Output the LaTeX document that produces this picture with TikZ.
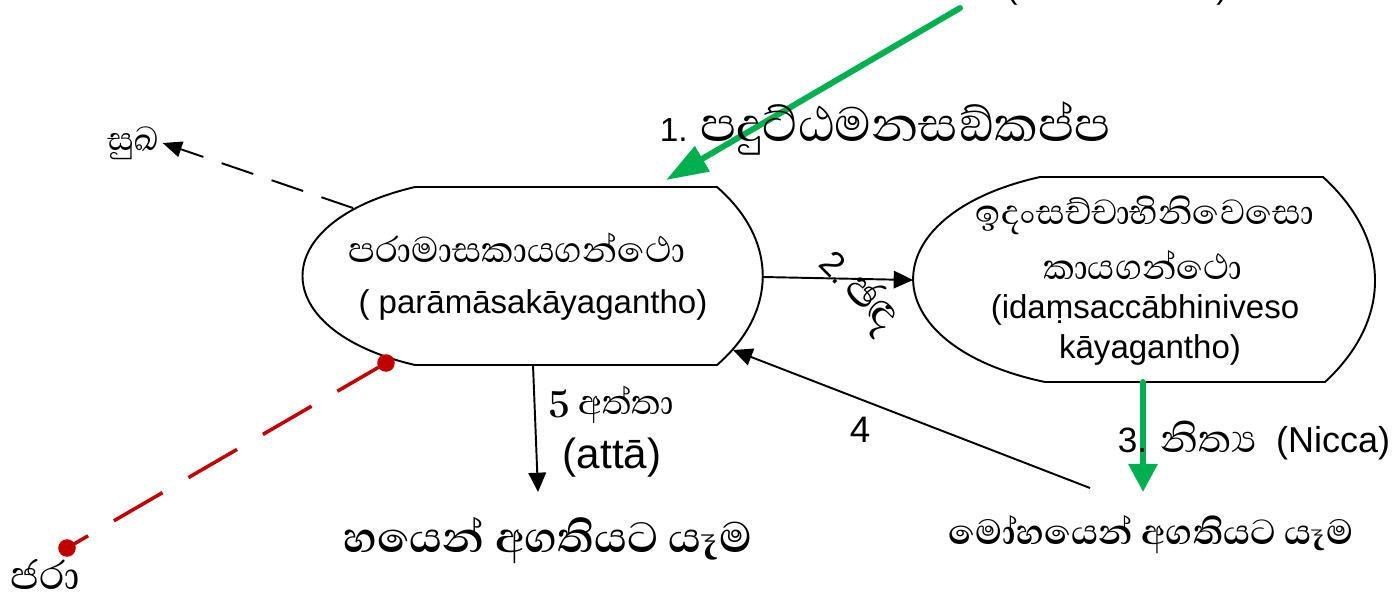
\documentclass[tikz,border=0pt]{standalone}
\usepackage{fontspec}
\setmainfont{Liberation Sans}
\newfontfamily\sifont[Script=Sinhala]{Abhaya Libre}
\usetikzlibrary{arrows.meta}

\definecolor{pathgreen}{RGB}{0,176,80}
\definecolor{jarared}{RGB}{192,0,0}

\tikzset{
  gantho/.style={line width=1.1pt},
  flow/.style={line width=1.1pt, -{Triangle[length=11pt,width=10pt]}},
  greenflow/.style={pathgreen, line width=3.4pt, line cap=round},
  sideflow/.style={line width=1.1pt, dash pattern=on 19pt off 11pt, -{Triangle[length=11pt,width=9pt]}},
  jaraline/.style={jarared, line width=2pt, dash pattern=on 32pt off 17pt},
  jaradot/.style={circle, fill=jarared, inner sep=0pt, minimum size=10pt},
}

\begin{document}
\begin{tikzpicture}[x=0.02cm,y=-0.02cm]
\useasboundingbox (0,0) rectangle (1392,600);

\begin{scope}[every node/.style={inner sep=2pt}]
  % the two gantho shapes
  \draw[gantho] (415,187) -- (717,187) .. controls (778,240) and (778,312) .. (717,365)
     -- (415,365) .. controls (265,330) and (265,222) .. cycle;
  \draw[gantho] (1040,177) -- (1323,177) .. controls (1392,240) and (1392,320) .. (1325,382)
     -- (1045,382) .. controls (870,345) and (870,215) .. cycle;

  \node (paraSi) at (517,248) {\fontsize{26}{30}\sifont පරාමාසකායගන්ථො};
  \node (paraLa) at (533,305) {\fontsize{18.8}{22}\selectfont ( parāmāsakāyagantho)};

  \node (idamSi) at (1145,215) {\fontsize{25.5}{30}\sifont ඉදංසච්චාභිනිවෙසො};
  \node (kayaSi) at (1143,265) {\fontsize{25.5}{30}\sifont කායගන්ථො};
  \node (idamLa) at (1145,310) {\fontsize{18.8}{22}\selectfont (idaṃsaccābhiniveso};
  \node (kayaLa) at (1150,350) {\fontsize{18.8}{22}\selectfont kāyagantho)};

  % outcomes
  \node (bhaya) at (548,540) {\fontsize{31}{36}\sifont\bfseries හයෙන් අගතියට යෑම};
  \node (moha) at (1151,535) {\fontsize{25.5}{30}\sifont\bfseries මෝහයෙන් අගතියට යෑම};
  \node (sukha) at (133,143) {\fontsize{23.5}{28}\sifont සුඛ};
  \node (jara) at (45,575) {\fontsize{29}{34}\sifont ජරා};
  \node[anchor=base] (top) at (1117,-2) {\fontsize{18.8}{22}\selectfont (\hspace{56pt}.\hspace{52pt})};

  % border points
  \coordinate (paraE) at (763,277);
  \coordinate (paraS) at (533,365);
  \coordinate (paraSE) at (733,350);
  \coordinate (paraNE) at (666,180);
  \coordinate (paraNW) at (353,208);
  \coordinate (paraSW) at (386,363);
  \coordinate (idamW) at (913,280);
  \coordinate (idamS) at (1143,382);
  \coordinate (start1) at (960,8);
  \coordinate (end3) at (1143,492);
  \coordinate (start4) at (1090,488);
  \coordinate (end5) at (538,492);
  \coordinate (jaraDot) at (67,548);

  % connectors
  \draw[greenflow, -{Triangle[length=24pt,width=16pt]}] (start1) -- (paraNE);
  \draw[flow] (paraE) -- (idamW);
  \draw[greenflow, -{Triangle[length=16pt,width=16pt]}] (idamS) -- (end3);
  \draw[flow] (start4) -- (paraSE);
  \draw[flow] (paraS) -- (end5);
  \draw[sideflow] (paraNW) -- (sukha.east);
  \draw[jaraline] (paraSW) -- (jaraDot);
  \node[jaradot] at (paraSW) {};
  \node[jaradot] at (jaraDot) {};

  % labels
  \node (lab1) at (885,128) {\fontsize{19}{22}\selectfont 1. {\fontsize{35}{40}\sifont පදුට්ඨමනසඞ්කප්ප}};
  \node[rotate=-45] (lab2) at (858,292) {\fontsize{20}{24}\selectfont 2.\,{\fontsize{32}{36}\sifont ඡඳ}};
  \node (lab3) at (1254,440) {\fontsize{20}{24}\selectfont 3. {\fontsize{28}{32}\sifont නිත්‍ය}\ \ {\fontsize{20.5}{24}\selectfont(Nicca)}};
  \node (lab4) at (860,430) {\fontsize{21}{24}\selectfont 4};
  \node (lab5) at (611,405) {\fontsize{25}{30}\sifont\textbf{5} අත්තා};
  \node (lab5b) at (612,458) {\fontsize{24}{28}\selectfont (attā)};
\end{scope}
\end{tikzpicture}
\end{document}
